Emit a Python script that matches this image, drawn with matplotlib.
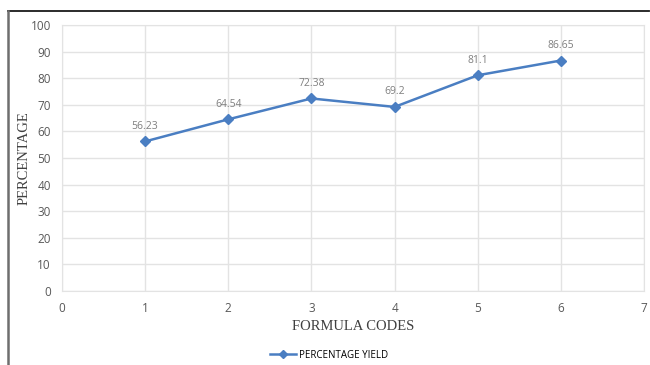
import matplotlib
matplotlib.use("Agg")
import matplotlib.pyplot as plt
from matplotlib.lines import Line2D

formula_codes = [1, 2, 3, 4, 5, 6]
percentage_yield = [56.23, 64.54, 72.38, 69.2, 81.1, 86.65]
x_ticks = [0, 1, 2, 3, 4, 5, 6, 7]
y_ticks = [0, 10, 20, 30, 40, 50, 60, 70, 80, 90, 100]

W, H = 650, 365
fig = plt.figure(figsize=(W / 100, H / 100), dpi=100)
ax = fig.add_axes([62 / W, 1 - 291 / H, (644 - 62) / W, (291 - 25) / H])

line_color = "#4A7EC2"
grid_color = "#E3E3E3"
tick_color = "#595959"
sans = ["Open Sans", "DejaVu Sans"]
serif = ["Liberation Serif", "DejaVu Serif"]

ax.plot(formula_codes, percentage_yield, color=line_color, lw=1.8,
        marker="D", ms=5, mfc=line_color, mec=line_color, zorder=3)
for x, y in zip(formula_codes, percentage_yield):
    ax.annotate(f"{y:g}", (x, y), xytext=(0, 7), textcoords="offset points",
                ha="center", va="bottom", fontsize=7.5, color="#7F7F7F",
                family=sans)

ax.set_xlim(0, 7)
ax.set_ylim(0, 100)
ax.set_xticks(x_ticks)
ax.set_yticks(y_ticks)
ax.grid(True, color=grid_color, lw=1)
ax.set_axisbelow(True)
for s in ax.spines.values():
    s.set_color(grid_color)
ax.tick_params(length=0, labelsize=8.5, colors=tick_color, pad=8)
for lab in ax.get_xticklabels() + ax.get_yticklabels():
    lab.set_family(sans)

ax.set_xlabel("FORMULA CODES", family=serif, fontsize=10.5, color="#404040")
ax.set_ylabel("PERCENTAGE", family=serif, fontsize=10.5, color="#404040")
ax.xaxis.set_label_coords((353 - 62) / 582, (291 - 326) / 266)
ax.yaxis.set_label_coords((24 - 62) / 582, 0.5)
ax.xaxis.label.set_va("center")
ax.yaxis.label.set_va("center")

handle = Line2D([], [], color=line_color, lw=1.8, marker="D", ms=4.5)
fig.legend([handle], ["PERCENTAGE YIELD"], loc="center",
           bbox_to_anchor=(329 / W, 1 - 355 / H), frameon=False,
           prop={"family": sans, "size": 7}, handlelength=2.6,
           handletextpad=0.3)

# outer frame: dark top edge and grey left edge
fig.add_artist(Line2D([8 / W, 649 / W], [1 - 11 / H, 1 - 11 / H],
                      transform=fig.transFigure, color="#1a1a1a", lw=1.3))
fig.add_artist(Line2D([8 / W, 8 / W], [1 - 11 / H, 0],
                      transform=fig.transFigure, color="#6e6e6e", lw=1.8))

fig.savefig("out.png", dpi=100)
